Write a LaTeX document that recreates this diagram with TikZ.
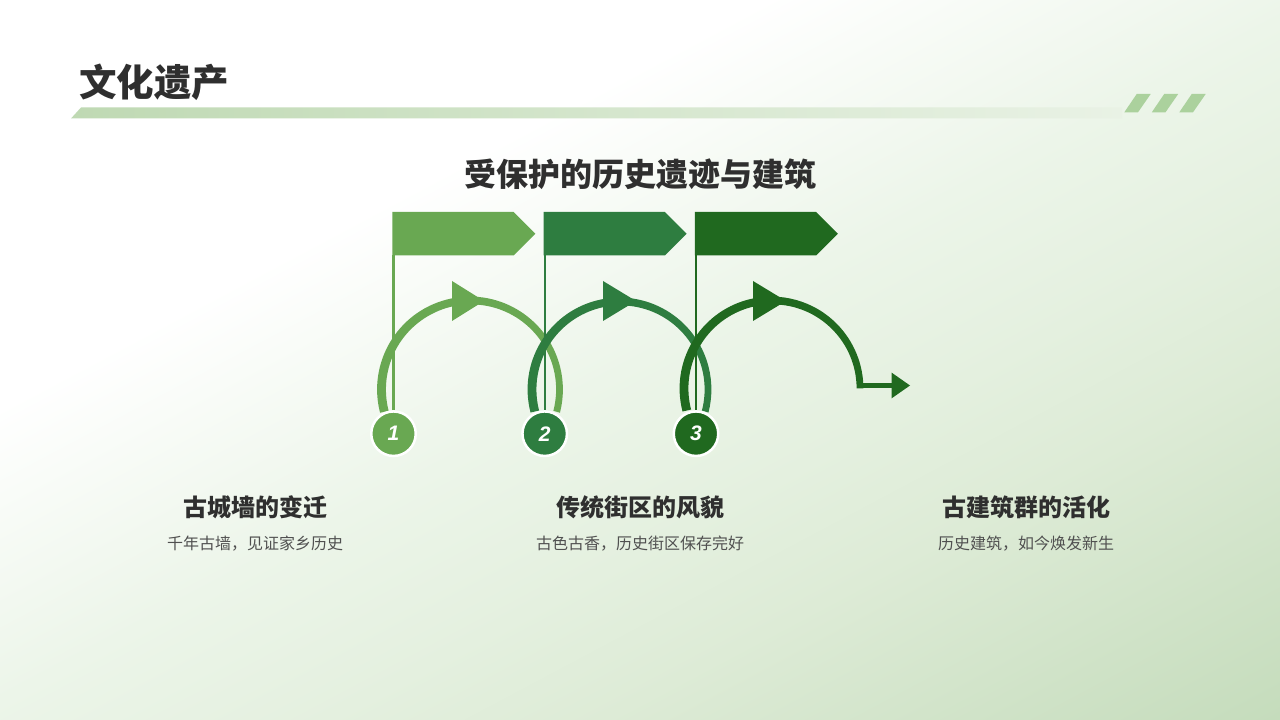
\documentclass[tikz,border=0pt]{standalone}
\usepackage{fontspec}
\setmainfont{Noto Sans CJK SC}
\newfontfamily\numfont{Liberation Sans}
\usetikzlibrary{shapes.symbols,calc}
\definecolor{cA}{HTML}{69A852}
\definecolor{cB}{HTML}{2E7D40}
\definecolor{cC}{HTML}{20691F}
\definecolor{inkd}{HTML}{2F2F2F}
\definecolor{inkl}{HTML}{505050}
\definecolor{stripe}{HTML}{ABD19D}
\definecolor{barL}{HTML}{BFD9B3}
\definecolor{barR}{HTML}{E9F2E5}
\definecolor{bgM}{HTML}{ECF5E9}
\definecolor{bgN}{HTML}{E4F0DF}
\definecolor{bgQ}{HTML}{DDEBD6}
\definecolor{bgE}{HTML}{C5DCBC}
\pgfdeclarehorizontalshading{bgrad}{100bp}{color(0bp)=(white); color(43.5bp)=(white); color(50bp)=(bgM); color(54.25bp)=(bgN); color(57.5bp)=(bgQ); color(65.45bp)=(bgE); color(100bp)=(bgE)}
\newcommand{\crescent}[5]{% cx, cy, R, colour, end angle
  \fill[#4] ($(#1-0.5,#2)+(194.5:#3+3.9)$) arc[start angle=194.5,end angle=#5,radius=#3+3.9]
    -- ($(#1+0.5,#2)+(#5:#3-3.9)$) arc[start angle=#5,end angle=194.5,radius=#3-3.9] -- cycle;}
\tikzset{
  x=1pt,y=1pt,
  flagbox/.style={signal,signal to=east,signal from=nowhere,signal pointer angle=90,minimum width=143pt,minimum height=43.5pt,inner sep=0pt,outer sep=0pt,fill=#1,anchor=west},
  badge/.style={circle,fill=#1,draw=white,line width=2.5pt,minimum size=44.5pt,inner sep=0pt,outer sep=0pt,text=white,font=\numfont\bfseries\itshape\fontsize{21}{21}\selectfont},
  pole/.style={draw=#1,line width=2.3pt,shorten >=1.25pt},
  headtext/.style={text=inkd,inner sep=0pt,font=\bfseries\fontsize{24}{24}\selectfont},
  bodytext/.style={text=inkl,inner sep=0pt,font=\fontsize{16}{16}\selectfont},
  tip/.style={fill=#1},
  stripebar/.style={fill=stripe}
}
\begin{document}
\begin{tikzpicture}
\useasboundingbox (0,0) rectangle (1280,720);
\begin{scope}
\clip (0,0) rectangle (1280,720);
\shade[shading=bgrad,shading angle=-62] (-360,-640) rectangle (1640,1360);
\end{scope}
% header
\node[text=inkd,inner sep=0pt,font=\bfseries\fontsize{37.5}{37.5}\selectfont] (title) at (154,638) {文化遗产};
\shade[left color=barL,right color=barR] (71,601.5) -- (81,612.5) -- (1122,612.5) -- (1122,601.5) -- cycle;
\fill[stripebar] (1124.3,607.7) -- (1136.7,626) -- (1150.7,626) -- (1138,607.7) -- cycle;
\fill[stripebar] (1151.8,607.7) -- (1164.2,626) -- (1178.2,626) -- (1165.5,607.7) -- cycle;
\fill[stripebar] (1179.3,607.7) -- (1191.7,626) -- (1205.7,626) -- (1193,607.7) -- cycle;
\node[text=inkd,inner sep=0pt,font=\bfseries\fontsize{32}{32}\selectfont] (sub) at (640,546) {受保护的历史遗迹与建筑};
% arcs
\crescent{470.5}{330.5}{89}{cA}{-14.5}
\fill[tip=cA] (452,439) -- (452,399) -- (484,419) -- cycle;
\crescent{620}{330.5}{88}{cB}{-14.5}
\fill[tip=cB] (603,439) -- (603,399) -- (636,419) -- cycle;
\crescent{772}{331.5}{88}{cC}{0}
\fill[tip=cC] (753,439) -- (753,399) -- (786,419) -- cycle;
% flags and badges
\node[flagbox=cA] (f1) at (392.35,486.3) {};
\node[flagbox=cB] (f2) at (543.55,486.3) {};
\node[flagbox=cC] (f3) at (694.85,486.3) {};
\node[badge=cA] (n1) at (393.5,286.3) {1};
\node[badge=cB] (n2) at (544.7,286.3) {2};
\node[badge=cC] (n3) at (696,286.3) {3};
\draw[pole=cA] (n1 |- f1.south) -- (n1.north);
\draw[pole=cB] (n2 |- f2.south) -- (n2.north);
\draw[pole=cC] (n3 |- f3.south) -- (n3.north);
% exit arrow
\coordinate (exitA) at (857,334.5);
\node[inner sep=0pt,minimum size=0pt] (exitB) at (892,334.5) {};
\draw[cC,line width=5.5pt] (exitA) -- (exitB);
\fill[tip=cC] (891.7,347.3) -- (891.7,321.7) -- (910,334.5) -- cycle;
% labels
\node[headtext] (h1) at (255,213) {古城墙的变迁};
\node[bodytext] (b1) at (255,176) {千年古墙，见证家乡历史};
\node[headtext] (h2) at (640,213) {传统街区的风貌};
\node[bodytext] (b2) at (640,176) {古色古香，历史街区保存完好};
\node[headtext] (h3) at (1026,213) {古建筑群的活化};
\node[bodytext] (b3) at (1026,176) {历史建筑，如今焕发新生};
\end{tikzpicture}
\end{document}
